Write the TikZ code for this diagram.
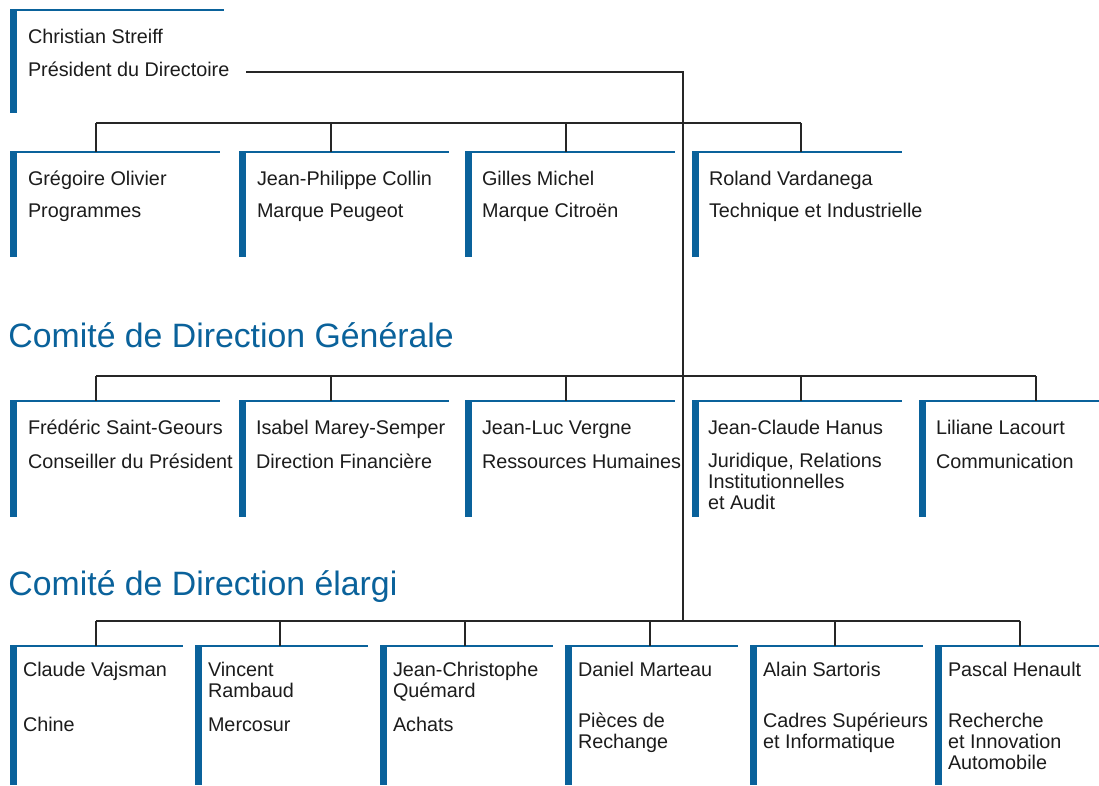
\documentclass[tikz,border=0pt]{standalone}
\usepackage{fontspec}
\setmainfont{Liberation Sans}
\definecolor{pblue}{RGB}{10,98,155}
\definecolor{ptext}{RGB}{28,28,28}
\tikzset{
  x=1pt,y=-1pt,
  pbox/.style={rectangle,inner sep=0pt,outer sep=0pt,anchor=north west,minimum height=#1},
  bw/.style={minimum width=#1},
  nm/.style={inner sep=0pt,outer sep=0pt,anchor=base west,align=left,text=ptext,
    font=\fontsize{19.8}{20.8}\selectfont},
  hd/.style={inner sep=0pt,outer sep=0pt,anchor=base west,text=pblue,
    font=\fontsize{33.8}{36}\selectfont},
  conn/.style={draw=black!85,line width=1.4pt},
}
\newcommand{\deco}[1]{%
  \fill[pblue] (#1.north west) rectangle ([xshift=7pt]#1.south west);
  \draw[pblue,line width=2pt] (#1.north west) -- (#1.north east);}
\begin{document}
\begin{tikzpicture}
\useasboundingbox[fill=white] (0,0) rectangle (1099,785);
% ---------- top ----------
\node[pbox=103pt,bw=214pt] (b0) at (10,10) {};
\deco{b0}
\node[nm] (b0n) at (28,43) {Christian Streiff};
\node[nm] (b0r) at (28,76) {Président du Directoire};
% ---------- row 1 ----------
\foreach \n/\x in {b11/10,b12/239,b13/465,b14/692}{
  \node[pbox=105pt,bw=210pt] (\n) at (\x,152) {};
  \deco{\n}
}
\node[nm] (b11n) at (28,185) {Grégoire Olivier};
\node[nm] (b11r) at (28,217) {Programmes};
\node[nm] (b12n) at (257,185) {Jean-Philippe Collin};
\node[nm] (b12r) at (257,217) {Marque Peugeot};
\node[nm] (b13n) at (482,185) {Gilles Michel};
\node[nm] (b13r) at (482,217) {Marque Citroën};
\node[nm] (b14n) at (709,185) {Roland Vardanega};
\node[nm] (b14r) at (709,217) {Technique et Industrielle};
% ---------- heading 1 ----------
\node[hd] (h1) at (8.5,347) {Comité de Direction Générale};
% ---------- row 2 ----------
\foreach \n/\x/\w in {b21/10/210,b22/239/210,b23/465/210,b24/692/210,b25/919/180}{
  \node[pbox=116pt,bw=\w pt] (\n) at (\x,401) {};
  \deco{\n}
}
\node[nm] (b21n) at (28,434) {Frédéric Saint-Geours};
\node[nm] (b21r) at (28,468) {Conseiller du Président};
\node[nm] (b22n) at (256,434) {Isabel Marey-Semper};
\node[nm] (b22r) at (256,468) {Direction Financière};
\node[nm] (b23n) at (482,434) {Jean-Luc Vergne};
\node[nm] (b23r) at (482,468) {Ressources Humaines};
\node[nm] (b24n) at (708,434) {Jean-Claude Hanus};
\node[nm] (b24r) at (708,509) {Juridique, Relations\\Institutionnelles\\et Audit};
\node[nm] (b25n) at (936,434) {Liliane Lacourt};
\node[nm] (b25r) at (936,468) {Communication};
% ---------- heading 2 ----------
\node[hd] (h2) at (8.5,595) {Comité de Direction élargi};
% ---------- row 3 ----------
\foreach \n/\x/\w in {b31/10/173,b32/195/173,b33/380/173,b34/565/173,b35/750/173,b36/935/164}{
  \node[pbox=139pt,bw=\w pt] (\n) at (\x,646) {};
  \deco{\n}
}
\node[nm] (b31n) at (23,676) {Claude Vajsman};
\node[nm] (b31r) at (23,731) {Chine};
\node[nm] (b32n) at (208,697) {Vincent\\Rambaud};
\node[nm] (b32r) at (208,731) {Mercosur};
\node[nm] (b33n) at (393,697) {Jean-Christophe\\Quémard};
\node[nm] (b33r) at (393,731) {Achats};
\node[nm] (b34n) at (578,676) {Daniel Marteau};
\node[nm] (b34r) at (578,748) {Pièces de\\Rechange};
\node[nm] (b35n) at (763,676) {Alain Sartoris};
\node[nm] (b35r) at (763,748) {Cadres Supérieurs\\et Informatique};
\node[nm] (b36n) at (948,676) {Pascal Henault};
\node[nm] (b36r) at (948,769) {Recherche\\et Innovation\\Automobile};
% ---------- connectors ----------
\coordinate (p0) at (246,72);
\coordinate (h0) at (683,72);
\coordinate (h3) at (683,621);
\draw[conn] (p0) -- (h0) -- (h3);
\draw[conn] (96,123) -- (801,123);
\foreach \n/\x in {b11/96,b12/331,b13/566,b14/801}{
  \draw[conn] (\x,123) -- (\x,0 |- \n.north);
}
\draw[conn] (96,376) -- (1036,376);
\foreach \n/\x in {b21/96,b22/331,b23/566,b24/801,b25/1036}{
  \draw[conn] (\x,376) -- (\x,0 |- \n.north);
}
\draw[conn] (96,621) -- (1020,621);
\foreach \n/\x in {b31/96,b32/280,b33/465,b34/650,b35/835,b36/1020}{
  \draw[conn] (\x,621) -- (\x,0 |- \n.north);
}
\end{tikzpicture}
\end{document}
